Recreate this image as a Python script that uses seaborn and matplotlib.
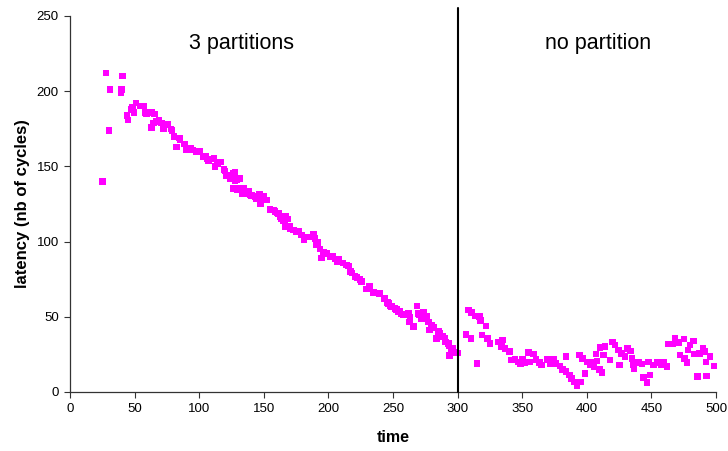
import matplotlib
matplotlib.use("Agg")
import matplotlib.pyplot as plt
import seaborn as sns
import pandas as pd

# ---- data ----
time_partitioned = [
    25, 28, 30, 31, 39.5, 40, 40.5,
    44, 45, 47.7, 48.5, 49.5, 51, 54, 56.7, 57.3, 58.3, 59.4, 61.4, 63.2, 63.2,
    64.5, 65.3, 67, 69, 71, 72.2, 75.3, 76, 78.2, 79, 80.5, 82.6, 84.6, 85.1,
    88.8, 90.3, 91.6, 93.1, 94.8, 98, 100.6, 103.2, 104.7, 106.6, 107, 111.5,
    112.2, 114, 116.5, 119.2, 120, 121.3, 124, 125.1, 126.4, 127.7, 129, 131.6,
    127.7, 126, 129.5, 130.3, 133.6, 134.1, 135.4, 138, 139.3, 140.6, 143.2,
    144, 146.5, 147.6, 148.4, 149.6, 152.2, 154.8, 157.4, 158.7, 160.5, 161.2,
    162.5, 163.8, 165.1, 166.4, 168.2, 167.2, 166.4, 169.8, 170.3, 172.9,
    175.5, 176.7, 179.3, 181.1, 184.4, 188.3, 189.6, 190.9, 191.4, 193.5,
    194.8, 196.1, 198.7, 201.2, 201.8, 203.3, 205.1, 206.9, 207.7, 211.3,
    214.2, 215.4, 217.3, 218.1, 220.6, 222, 224.5, 225.8, 229.6, 231.7, 232.2,
    234.8, 239.4, 240, 243, 243.8, 245.6, 246.4, 248.2, 249, 251.5, 252.9,
    254.1, 255.4, 256.7, 258, 260.1, 261.9, 262.7, 263.2, 265.8, 268.6, 269.6,
    270.5, 272.2, 273.6, 274.8, 276.1, 277.4, 278.2, 279.9, 281.3, 283.8,
    285.1, 286.4, 288.5, 290.2, 290.8, 292.8, 293.2, 293.6, 295.4, 296.5,
    298.8, 299.8,
]
latency_partitioned = [
    140, 212, 174, 201, 199, 201, 210,
    184, 181, 188, 189, 186, 192, 190, 190, 190, 186, 185, 186, 186, 176,
    179, 185, 180, 181, 179, 175, 178, 177.5, 175, 174, 170, 163, 169, 168,
    165, 161, 161, 162, 161, 160, 160, 156.5, 156.5, 155, 154, 155.4,
    150, 152, 153, 148, 147, 144, 142, 142, 145.4, 146, 141, 142,
    140.5, 135.4, 134.3, 135.4, 132, 135.4, 132, 133.5, 131, 130.5, 130,
    128.7, 131.6, 125, 128, 130.3, 127.5, 121.5, 121, 120, 119, 118.8,
    116.6, 115.5, 114, 113, 115, 116.6, 110, 110, 108.8, 107.7,
    106.6, 106.6, 104.4, 101.1, 103, 105, 102, 98, 99.3, 95,
    89, 93, 92.2, 90, 89.6, 90.4, 88.5, 86.6, 88, 85.8,
    84.4, 83.8, 80, 79, 76.7, 76.2, 74.9, 73.5, 68.5, 70, 70,
    66.1, 65.6, 65.6, 62.3, 62.3, 59.4, 59, 57.2, 56.7, 55.6, 55,
    53.4, 53.4, 51.9, 51.2, 51.9, 52.3, 46.7, 49.7, 43.4, 57.2, 52.3,
    51.2, 49, 52.7, 49, 50.1, 46.7, 41.2, 44.5, 43, 35.7,
    40.1, 39, 36.8, 35.7, 33.4, 32.4, 30.6, 24.3, 29, 29,
    26.1, 26,
]
time_single = [
    306.5, 308.3, 310.4, 310.9, 313.5, 315.2, 316.8, 317.9, 318.7, 322, 323.1,
    325.1, 331.5, 334.1, 334.9, 336.7, 340, 341.9, 344.4, 347, 348.8, 350.4,
    352.2, 354.8, 355.5, 358.6, 360.7, 363.3, 365.1, 369.5, 371.5, 374.6,
    376.2, 379.3, 381.3, 383.9, 383.9, 386.5, 388.3, 390.1, 392.6, 394.2,
    395.3, 396.8, 398.6, 400.4, 402.5, 403.8, 405.6, 407.1, 408, 409.7, 410.2,
    411.6, 412.8, 414.1, 418, 419.8, 421.8, 424.4, 425.2, 427, 429.6, 431.4,
    434, 434.8, 436.1, 436.7, 440, 442.6, 443.9, 446.5, 447.8, 449, 451.6,
    454.7, 457.3, 459.8, 461.9, 463.1, 466.5, 468.3, 470.9, 472.2, 475.2,
    475.7, 477.5, 478.3, 479.9, 482.4, 483, 485.6, 487.2, 489.8, 491.5,
    492.3, 492.8, 495.4, 498.5,
]
latency_single = [
    38.4, 54.5, 35.7, 52.7, 50.5, 19.1, 50.1, 47.4, 37.9, 43.9, 35.7,
    32.4, 33.4, 30.1, 34.6, 29, 26.8, 21.3, 21.7, 20.1, 18.6, 21.7,
    19.5, 26.1, 20.1, 25.3, 21.7, 19.5, 18, 21.7, 19.1, 21.7,
    19.1, 17.3, 15.1, 23.5, 13.5, 11.3, 9.1, 6.8, 4.2, 24.6,
    6.8, 22.3, 12.4, 20.1, 18, 20.1, 16.8, 25.3, 20.5, 15.1, 29.7,
    12.8, 24.6, 30.1, 21.3, 33.4, 31.3, 27.9, 18, 25.7, 23.5, 29,
    27.3, 22.3, 18, 15.7, 19.5, 18.6, 9.5, 6.2, 20.1, 11.3, 18,
    19.5, 18, 19.5, 16.8, 31.9, 31.9, 35.7, 32.8, 24.6, 35.2,
    22.3, 19.5, 27.9, 31.3, 33.9, 25.3, 10.2, 25.7, 29, 26.8,
    20.1, 10.6, 23.5, 17.3,
]
x_ticks = [0, 50, 100, 150, 200, 250, 300, 350, 400, 450, 500]
y_ticks = [0, 50, 100, 150, 200, 250]
partition_switch = 300
region_labels = ["3 partitions", "no partition"]
x_label = "time"
y_label = "latency (nb of cycles)"

df = pd.DataFrame({
    "time": time_partitioned + time_single,
    "latency": latency_partitioned + latency_single,
})

sns.set_theme(style="ticks")
plt.rcParams["font.family"] = ["Liberation Sans", "DejaVu Sans"]
plt.rcParams["text.color"] = "black"
plt.rcParams["axes.labelcolor"] = "black"

fig = plt.figure(figsize=(7.28, 4.51), dpi=100)
ax = fig.add_axes([70 / 728, 1 - 392 / 451, 646 / 728, 376 / 451])

sns.scatterplot(data=df, x="time", y="latency", ax=ax, marker="s",
                color="#FF00FF", s=22, linewidth=0, edgecolor="none",
                zorder=3, clip_on=False)

ax.axvline(partition_switch, ymin=0, ymax=255 / 250, color="black",
           linewidth=1.5, clip_on=False, zorder=4)

ax.set_xlim(0, 500)
ax.set_ylim(0, 250)
ax.set_xticks(x_ticks)
ax.set_yticks(y_ticks)
ax.tick_params(axis="both", direction="out", length=4, width=0.8,
               labelsize=9.5, colors="#333333", labelcolor="black", pad=4)
for side in ("top", "right"):
    ax.spines[side].set_visible(False)
for side in ("left", "bottom"):
    ax.spines[side].set_color("#333333")
    ax.spines[side].set_linewidth(0.9)

ax.set_xlabel(x_label, fontsize=11.5, fontweight="bold", color="black")
ax.set_ylabel(y_label, fontsize=12, fontweight="bold", color="black")
ax.xaxis.set_label_coords(0.5, -0.1)
ax.yaxis.set_label_coords(-0.062, 0.5)

ax.text(133, 232, region_labels[0], fontsize=15.5, ha="center", va="center",
        color="black")
ax.text(409, 232, region_labels[1], fontsize=15.5, ha="center", va="center",
        color="black")

fig.savefig("out.png", dpi=100)
